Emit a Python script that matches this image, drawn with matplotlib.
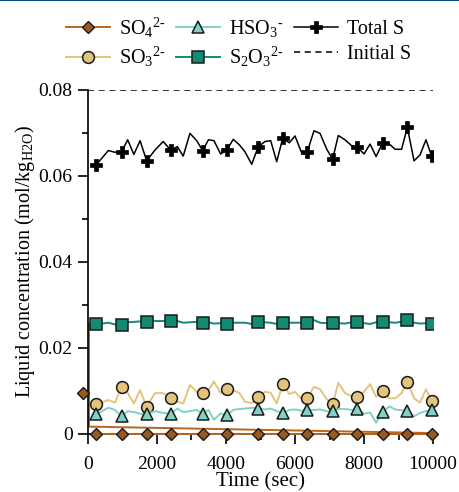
import matplotlib
matplotlib.use("Agg")
import matplotlib.pyplot as plt
from matplotlib.lines import Line2D

plt.rcParams['font.family'] = ['Liberation Serif', 'DejaVu Serif']
plt.rcParams['mathtext.fontset'] = 'custom'
plt.rcParams['mathtext.rm'] = 'Liberation Serif'
plt.rcParams['mathtext.it'] = 'Liberation Serif:italic'

# time grid (sec) shared by all series
time = [230, 590, 780, 975, 1150, 1330, 1510, 1700, 1940, 2180, 2395, 2590, 2760,
        2955, 3150, 3325, 3490, 3650, 3845, 4020, 4210, 4390, 4550, 4745, 4935,
        5130, 5295, 5470, 5645, 5835, 6000, 6195, 6355, 6550, 6725, 6920, 7090,
        7255, 7450, 7645, 7805, 8000, 8175, 8350, 8540, 8735, 8900, 9090, 9255,
        9450, 9625, 9795, 9960]
marker_idx = [0, 3, 7, 10, 15, 19, 24, 28, 32, 36, 40, 44, 48, 52]

total_s = [0.0625, 0.0659, 0.0655, 0.0656, 0.0684, 0.0650, 0.0682, 0.0635, 0.0660,
           0.0680, 0.0660, 0.0668, 0.0646, 0.0699, 0.0682, 0.0659, 0.0684, 0.0682,
           0.0651, 0.0660, 0.0685, 0.0672, 0.0656, 0.0627, 0.0668, 0.0680, 0.0682,
           0.0633, 0.0688, 0.0677, 0.0693, 0.0653, 0.0656, 0.0705, 0.0699, 0.0662,
           0.0639, 0.0694, 0.0684, 0.0670, 0.0667, 0.0651, 0.0674, 0.0645, 0.0677,
           0.0674, 0.0662, 0.0662, 0.0713, 0.0635, 0.0649, 0.0684, 0.0646]

s2o3 = [0.0254, 0.0258, 0.0254, 0.0253, 0.0259, 0.0260, 0.0261, 0.0260, 0.0262,
        0.0262, 0.0263, 0.0262, 0.0258, 0.0259, 0.0260, 0.0258, 0.0259, 0.0256,
        0.0257, 0.0255, 0.0258, 0.0258, 0.0258, 0.0255, 0.0259, 0.0259, 0.0258,
        0.0255, 0.0258, 0.0258, 0.0258, 0.0258, 0.0258, 0.0264, 0.0258, 0.0257,
        0.0258, 0.0257, 0.0256, 0.0259, 0.0259, 0.0257, 0.0255, 0.0259, 0.0260,
        0.0259, 0.0258, 0.0260, 0.0264, 0.0258, 0.0256, 0.0257, 0.0254]

so3 = [0.0068, 0.0078, 0.0072, 0.0109, 0.0094, 0.0070, 0.0101, 0.0062, 0.0094,
       0.0094, 0.0083, 0.0074, 0.0070, 0.0113, 0.0097, 0.0094, 0.0101, 0.0121,
       0.0094, 0.0103, 0.0101, 0.0094, 0.0074, 0.0071, 0.0084, 0.0097, 0.0095,
       0.0070, 0.0115, 0.0092, 0.0097, 0.0080, 0.0082, 0.0109, 0.0103, 0.0080,
       0.0068, 0.0118, 0.0094, 0.0087, 0.0086, 0.0097, 0.0115, 0.0086, 0.0099,
       0.0082, 0.0082, 0.0094, 0.0121, 0.0082, 0.0072, 0.0103, 0.0076]

hso3 = [0.0045, 0.0060, 0.0055, 0.0040, 0.0052, 0.0050, 0.0046, 0.0045, 0.0052,
        0.0048, 0.0046, 0.0058, 0.0050, 0.0052, 0.0055, 0.0045, 0.0055, 0.0032,
        0.0047, 0.0042, 0.0055, 0.0057, 0.0058, 0.0060, 0.0058, 0.0056, 0.0058,
        0.0052, 0.0047, 0.0055, 0.0056, 0.0053, 0.0054, 0.0055, 0.0056, 0.0052,
        0.0052, 0.0057, 0.0057, 0.0055, 0.0056, 0.0046, 0.0049, 0.0025, 0.0050,
        0.0063, 0.0056, 0.0054, 0.0052, 0.0040, 0.0048, 0.0052, 0.0054]

so4 = [0.0] * len(time)
so4_start_t = [-150]
so4_start = [0.0094]
so4_trend_t = [30, 30, 10000]
so4_trend = [0.0256, 0.0016, 0.0001]

initial_s = 0.08

lab_so4 = 'SO$_4$$^{2\\text{-}}$'
lab_so3 = 'SO$_3$$^{2\\text{-}}$'
lab_hso3 = 'HSO$_3$$^{\\text{-}}$'
lab_s2o3 = 'S$_2$O$_3$$^{2\\text{-}}$'

c_so4 = '#9a5a1f'
c_so4_line = '#b8661f'
c_so3 = '#e4c47c'
c_hso3 = '#7fd3c4'
c_s2o3 = '#138b74'

fig = plt.figure(figsize=(4.59, 4.92), dpi=100)
ax = fig.add_axes([0.1917, 0.1189, 0.7517, 0.6982])

ax.plot(so4_trend_t, so4_trend, color=c_so4_line, lw=1.4, zorder=2)
ax.plot([0, 10000], [initial_s, initial_s], color='black', linestyle=(0, (4, 3)),
        lw=1.1, label='Initial S', zorder=2)
ax.plot(time, total_s, color='black', lw=1.1, marker='P', markersize=9,
        markevery=marker_idx, markerfacecolor='black', markeredgecolor='black',
        markeredgewidth=0.5, label='Total S', zorder=3)
ax.plot(time, s2o3, color=c_s2o3, lw=1.4, marker='s', markersize=8,
        markevery=marker_idx, markerfacecolor=c_s2o3, markeredgecolor='#1a1a1a',
        markeredgewidth=1.1, label=lab_s2o3, zorder=3)
ax.plot(time, so3, color=c_so3, lw=1.4, marker='o', markersize=8.5,
        markevery=marker_idx, markerfacecolor=c_so3, markeredgecolor='#1a1a1a',
        markeredgewidth=1.1, label=lab_so3, zorder=3, clip_on=False)
ax.plot(time, hso3, color=c_hso3, lw=1.4, marker='^', markersize=8,
        markevery=marker_idx, markerfacecolor=c_hso3, markeredgecolor='#1a1a1a',
        markeredgewidth=1.1, label=lab_hso3, zorder=3, clip_on=False)
ax.plot(time, so4, color=c_so4_line, lw=1.4, marker='D', markersize=6.5,
        markevery=marker_idx, markerfacecolor=c_so4, markeredgecolor='#1a1a1a',
        markeredgewidth=1.0, label=lab_so4, zorder=4, clip_on=False)
ax.plot(so4_start_t, so4_start, linestyle='none', marker='D', markersize=6.5,
        markerfacecolor=c_so4, markeredgecolor='#1a1a1a', markeredgewidth=1.0,
        zorder=4, clip_on=False)

ax.set_xlim(0, 10000)
ax.set_ylim(0, 0.08)
ax.set_xticks([0, 2000, 4000, 6000, 8000, 10000])
ax.set_xticks(range(1000, 10000, 2000), minor=True)
ax.set_yticks([0, 0.02, 0.04, 0.06, 0.08])
ax.set_yticklabels(['0', '0.02', '0.04', '0.06', '0.08'])
ax.set_yticks([0.01, 0.03, 0.05, 0.07], minor=True)

for side in ['top', 'right']:
    ax.spines[side].set_visible(False)
for side in ['left', 'bottom']:
    ax.spines[side].set_linewidth(1.2)
ax.tick_params(which='major', direction='out', length=7, width=1.2, labelsize=14, pad=4)
ax.tick_params(which='minor', direction='out', length=4, width=1.2)
ax.tick_params(axis='x', which='major', pad=9)

ax.set_xlabel('Time (sec)', fontsize=15, labelpad=0)
ax.set_ylabel('Liquid concentration (mol/kg$_{\\mathrm{H2O}}$)', fontsize=14.5, labelpad=1)

handles, labels = ax.get_legend_handles_labels()
order = [lab_so4, lab_so3, lab_hso3, lab_s2o3, 'Total S', 'Initial S']
hl = dict(zip(labels, handles))
fig.legend([hl[k] for k in order], order, ncol=3, loc='upper center',
           bbox_to_anchor=(0.52, 0.985), frameon=False, fontsize=14.5,
           handlelength=2.2, columnspacing=0.5, handletextpad=0.45,
           labelspacing=0.28, borderaxespad=0)

fig.add_artist(Line2D([0, 1], [0.999, 0.999], color='#0b4a8b', lw=1.5,
                      transform=fig.transFigure))

fig.savefig('out.png', dpi=100)
